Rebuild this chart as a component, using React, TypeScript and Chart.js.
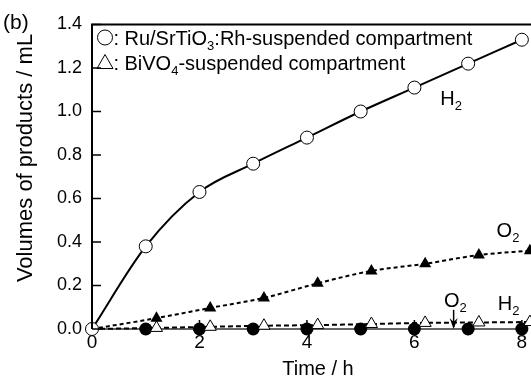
import { useEffect, useRef } from "react";
import { Chart, registerables } from "chart.js";

Chart.register(...registerables);

// ---- data ----
const hoursSrTiO3 = [0, 1, 2, 3, 4, 5, 6, 7, 8];
const h2SrTiO3 = [0, 0.38, 0.63, 0.76, 0.88, 1.0, 1.11, 1.22, 1.33];
const o2SrTiO3 = [0, 0, 0, 0, 0, 0, 0, 0, 0];
const hoursBiVO4 = [0, 1.2, 2.2, 3.2, 4.2, 5.2, 6.2, 7.2, 8.15];
const o2BiVO4 = [0, 0.05, 0.097, 0.143, 0.21, 0.267, 0.3, 0.34, 0.36];
const h2BiVO4 = [0, 0.005, 0.01, 0.015, 0.018, 0.023, 0.028, 0.03, 0.032];
const xTicks = [0, 2, 4, 6, 8];
const yTicks = [0, 0.2, 0.4, 0.6, 0.8, 1.0, 1.2, 1.4];
const xTitle = "Time / h";
const yTitle = "Volumes of products / mL";
const legendCircle = ["Ru/SrTiO", "3", ":Rh-suspended compartment"];
const legendTriangle = ["BiVO", "4", "-suspended compartment"];

const FONT = "'Liberation Sans', Arial, Helvetica, sans-serif";

const pts = (xs: number[], ys: number[]) => xs.map((x, i) => ({ x, y: ys[i] }));

function drawSub(ctx: CanvasRenderingContext2D, x: number, y: number, parts: string[], size: number) {
  ctx.font = `${size}px ${FONT}`;
  ctx.fillText(parts[0], x, y);
  let cx = x + ctx.measureText(parts[0]).width;
  ctx.font = `${Math.round(size * 0.65)}px ${FONT}`;
  ctx.fillText(parts[1], cx, y + size * 0.25);
  cx += ctx.measureText(parts[1]).width;
  if (parts[2]) {
    ctx.font = `${size}px ${FONT}`;
    ctx.fillText(parts[2], cx, y);
  }
}

const decorPlugin = {
  id: "decor",
  afterDatasetsDraw(chart: any) {
    const { ctx, chartArea, scales } = chart;
    const xs = scales.x;
    const ys = scales.y;
    ctx.save();
    ctx.strokeStyle = "#000";
    ctx.fillStyle = "#000";
    // frame: left, top
    ctx.lineWidth = 2;
    ctx.beginPath();
    ctx.moveTo(chartArea.right + 5, chartArea.top);
    ctx.lineTo(chartArea.left, chartArea.top);
    ctx.lineTo(chartArea.left, chartArea.bottom);
    ctx.stroke();
    // inward ticks
    ctx.lineWidth = 1.5;
    yTicks.forEach((v) => {
      const py = ys.getPixelForValue(v);
      ctx.beginPath();
      ctx.moveTo(chartArea.left, py);
      ctx.lineTo(chartArea.left + 9, py);
      ctx.stroke();
    });
    xTicks.forEach((v) => {
      const px = xs.getPixelForValue(v);
      ctx.beginPath();
      ctx.moveTo(px, chartArea.bottom);
      ctx.lineTo(px, chartArea.bottom - 9);
      ctx.stroke();
    });

    ctx.textAlign = "left";
    ctx.textBaseline = "alphabetic";
    // legend
    const lx = chartArea.left + 5;
    ctx.lineWidth = 1;
    ctx.beginPath();
    ctx.arc(lx + 8, chartArea.top + 13, 7.5, 0, Math.PI * 2);
    ctx.stroke();
    ctx.font = `20px ${FONT}`;
    ctx.fillText(":", lx + 16.5, chartArea.top + 20);
    drawSub(ctx, lx + 27.5, chartArea.top + 20, legendCircle, 20);
    ctx.beginPath();
    const tcx = lx + 8;
    const tcy = chartArea.top + 38;
    ctx.moveTo(tcx, tcy - 8);
    ctx.lineTo(tcx + 8, tcy + 6);
    ctx.lineTo(tcx - 8, tcy + 6);
    ctx.closePath();
    ctx.stroke();
    ctx.font = `20px ${FONT}`;
    ctx.fillText(":", lx + 16.5, chartArea.top + 45);
    drawSub(ctx, lx + 27.5, chartArea.top + 45, legendTriangle, 20);

    // curve labels
    drawSub(ctx, xs.getPixelForValue(6.48), ys.getPixelForValue(1.03), ["H", "2", ""], 20);
    drawSub(ctx, xs.getPixelForValue(7.53), ys.getPixelForValue(0.425), ["O", "2", ""], 20);
    drawSub(ctx, xs.getPixelForValue(6.55), ys.getPixelForValue(0.1), ["O", "2", ""], 20);
    drawSub(ctx, xs.getPixelForValue(7.55), ys.getPixelForValue(0.088), ["H", "2", ""], 20);
    // arrow
    const ax = xs.getPixelForValue(6.73);
    const ay0 = ys.getPixelForValue(0.088);
    const ay1 = ys.getPixelForValue(0.0);
    ctx.lineWidth = 1.5;
    ctx.beginPath();
    ctx.moveTo(ax, ay0);
    ctx.lineTo(ax, ay1 - 2);
    ctx.stroke();
    ctx.beginPath();
    ctx.moveTo(ax - 4, ay1 - 11);
    ctx.lineTo(ax, ay1);
    ctx.lineTo(ax + 4, ay1 - 11);
    ctx.lineTo(ax, ay1 - 7);
    ctx.closePath();
    ctx.fill();

    // panel label
    ctx.font = `21px ${FONT}`;
    ctx.fillText("(b)", 3, 29);

    // axis titles
    ctx.font = `20px ${FONT}`;
    ctx.textAlign = "center";
    ctx.fillText(xTitle, 318, 375);
    ctx.save();
    ctx.translate(32, 158);
    ctx.rotate(-Math.PI / 2);
    ctx.font = `22px ${FONT}`;
    ctx.fillText(yTitle, 0, 0);
    ctx.restore();
    ctx.restore();
  },
};

export default function App() {
  const ref = useRef<HTMLCanvasElement | null>(null);
  useEffect(() => {
    document.body.style.margin = "0";
    const canvas = ref.current!;
    const chart = new Chart(canvas, {
      type: "scatter",
      data: {
        datasets: [
          {
            label: "H2 (Ru/SrTiO3:Rh)",
            data: pts(hoursSrTiO3, h2SrTiO3),
            showLine: true,
            clip: false,
            borderColor: "#000",
            borderWidth: 2,
            cubicInterpolationMode: "monotone",
            pointStyle: "circle",
            pointRadius: 6.5,
            pointBackgroundColor: "#fff",
            pointBorderColor: "#000",
            pointBorderWidth: 1,
            order: 0,
          },
          {
            label: "H2 (BiVO4)",
            data: pts(hoursBiVO4, h2BiVO4),
            showLine: true,
            clip: false,
            borderColor: "#000",
            borderWidth: 2,
            borderDash: [5, 3],
            cubicInterpolationMode: "monotone",
            pointStyle: "triangle",
            pointRadius: (c: any) => (c.dataIndex === 0 ? 0 : 7),
            pointBackgroundColor: "#fff",
            pointBorderColor: "#000",
            pointBorderWidth: 1,
            order: 1,
          },
          {
            label: "O2 (Ru/SrTiO3:Rh)",
            data: pts(hoursSrTiO3, o2SrTiO3),
            showLine: true,
            clip: false,
            borderColor: "#333",
            borderWidth: 1.5,
            pointStyle: "circle",
            pointRadius: (c: any) => (c.dataIndex === 0 ? 0 : 6.5),
            pointBackgroundColor: "#000",
            pointBorderColor: "#000",
            pointBorderWidth: 0,
            order: 2,
          },
          {
            label: "O2 (BiVO4)",
            data: pts(hoursBiVO4, o2BiVO4),
            showLine: true,
            clip: false,
            borderColor: "#000",
            borderWidth: 2,
            borderDash: [4, 3],
            cubicInterpolationMode: "monotone",
            pointStyle: "triangle",
            pointRadius: (c: any) => (c.dataIndex === 0 ? 0 : 7),
            pointBackgroundColor: "#000",
            pointBorderColor: "#000",
            pointBorderWidth: 0,
            order: 3,
          },
        ],
      },
      options: {
        animation: false,
        responsive: false,
        layout: { autoPadding: false, padding: { top: 24.5, right: 0, left: 0, bottom: 0 } },
        plugins: { legend: { display: false }, tooltip: { enabled: false } },
        scales: {
          x: {
            type: "linear",
            min: 0,
            max: 8.17,
            afterBuildTicks: (s: any) => {
              s.ticks = xTicks.map((v) => ({ value: v }));
            },
            afterFit: (s: any) => {
              s.height = 50;
              s.paddingLeft = 0;
              s.paddingRight = 0;
            },
            grid: { display: false, drawTicks: false },
            border: { display: false },
            ticks: {
              color: "#000",
              font: { size: 19, family: FONT },
              padding: 2,
              maxRotation: 0,
              autoSkip: false,
              callback: (v: any) => String(v),
            },
          },
          y: {
            min: 0,
            max: 1.4,
            afterBuildTicks: (s: any) => {
              s.ticks = yTicks.map((v) => ({ value: v }));
            },
            afterFit: (s: any) => {
              s.width = 92;
              s.paddingTop = 0;
              s.paddingBottom = 0;
            },
            grid: { display: false, drawTicks: false },
            border: { display: false },
            ticks: {
              color: "#000",
              font: { size: 18, family: FONT },
              padding: 10,
              autoSkip: false,
              callback: (v: any) => Number(v).toFixed(1),
            },
          },
        },
      },
      plugins: [decorPlugin],
    });
    return () => chart.destroy();
  }, []);
  return (
    <div style={{ width: 531, height: 379 }}>
      <canvas ref={ref} width={531} height={379} style={{ display: "block" }} />
    </div>
  );
}
